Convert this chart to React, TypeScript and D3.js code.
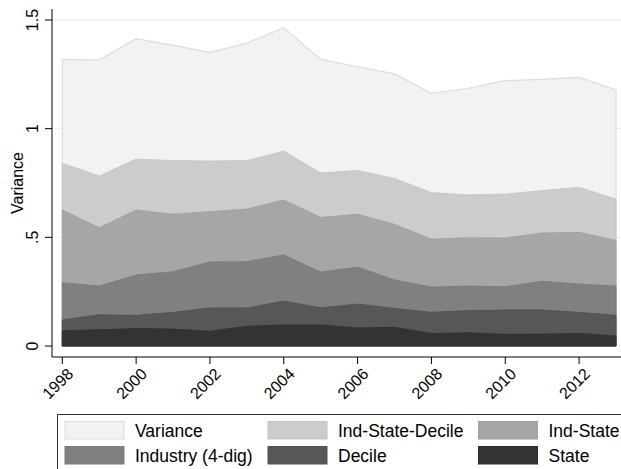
import React from "react";
import * as d3 from "d3";

const years = [1998, 1999, 2000, 2001, 2002, 2003, 2004, 2005, 2006, 2007, 2008, 2009, 2010, 2011, 2012, 2013];
const variance = [1.319, 1.316, 1.414, 1.383, 1.351, 1.394, 1.465, 1.319, 1.285, 1.252, 1.163, 1.186, 1.221, 1.227, 1.236, 1.178];
const indStateDecile = [0.841, 0.782, 0.86, 0.853, 0.851, 0.853, 0.897, 0.796, 0.808, 0.771, 0.706, 0.695, 0.699, 0.715, 0.73, 0.676];
const indState = [0.626, 0.544, 0.626, 0.606, 0.618, 0.63, 0.672, 0.592, 0.606, 0.56, 0.492, 0.498, 0.497, 0.52, 0.523, 0.486];
const industry = [0.291, 0.276, 0.327, 0.342, 0.387, 0.388, 0.419, 0.34, 0.363, 0.304, 0.271, 0.276, 0.273, 0.298, 0.285, 0.276];
const decile = [0.12, 0.144, 0.141, 0.155, 0.175, 0.175, 0.207, 0.176, 0.193, 0.173, 0.155, 0.163, 0.166, 0.166, 0.155, 0.141];
const stateV = [0.07, 0.075, 0.08, 0.078, 0.068, 0.091, 0.097, 0.097, 0.083, 0.086, 0.058, 0.061, 0.054, 0.055, 0.058, 0.046];

const seriesNames = ["Variance", "Ind-State-Decile", "Ind-State", "Industry (4-dig)", "Decile", "State"];
const seriesData = [variance, indStateDecile, indState, industry, decile, stateV];
const fills = ["#f2f2f2", "#cccccc", "#a6a6a6", "#808080", "#575757", "#333333"];
const strokes = ["#dcdcdc", "#c4c4c4", "#9e9e9e", "#7a7a7a", "#525252", "#303030"];

const yTicks = [0, 0.5, 1, 1.5];
const yTickLabels = ["0", ".5", "1", "1.5"];
const xTicks = [1998, 2000, 2002, 2004, 2006, 2008, 2010, 2012];

const W = 621;
const H = 469;
const FONT = "'Liberation Sans', Arial, Helvetica, sans-serif";

export default function App() {
  const x = d3.scaleLinear().domain([1998, 2013]).range([62.3, 616]);
  const y = d3.scaleLinear().domain([0, 1.5]).range([346, 20]);
  const axisX = 52;
  const axisY = 357;

  const area = d3
    .area<number>()
    .x((_, i) => x(years[i]))
    .y0(() => y(0))
    .y1((d) => y(d))
    .curve(d3.curveLinear);

  const legendCols = [65, 268, 478.5];
  const legendRows = [421.5, 446.5];

  return (
    <svg
      width={W}
      height={H}
      style={{ position: "absolute", left: 0, top: 0, background: "#fff" }}
      fontFamily={FONT}
    >
      <rect x={0} y={0} width={W} height={H} fill="#ffffff" />
      {/* gridlines */}
      {yTicks.map((t) => (
        <line key={"g" + t} x1={axisX} x2={W} y1={y(t)} y2={y(t)} stroke="#eaeaea" strokeWidth={1} />
      ))}
      {/* areas */}
      {seriesData.map((s, k) => (
        <path key={k} d={area(s) || ""} fill={fills[k]} stroke={strokes[k]} strokeWidth={k === 0 ? 1.2 : 0.8} />
      ))}
      {/* y axis */}
      <line x1={axisX} x2={axisX} y1={9} y2={axisY} stroke="#000" strokeWidth={1} />
      {yTicks.map((t, i) => (
        <g key={"yt" + t}>
          <line x1={axisX - 7} x2={axisX} y1={y(t)} y2={y(t)} stroke="#000" strokeWidth={1} />
          <text
            transform={`translate(38,${y(t)}) rotate(-90)`}
            textAnchor="middle"
            fontSize={16}
            fill="#000"
          >
            {yTickLabels[i]}
          </text>
        </g>
      ))}
      <text transform={`translate(23,${(9 + axisY) / 2}) rotate(-90)`} textAnchor="middle" fontSize={16} fill="#000">
        Variance
      </text>
      {/* x axis */}
      <line x1={axisX} x2={W} y1={axisY} y2={axisY} stroke="#000" strokeWidth={1} />
      {xTicks.map((t) => (
        <g key={"xt" + t}>
          <line x1={x(t)} x2={x(t)} y1={axisY} y2={axisY + 7} stroke="#000" strokeWidth={1} />
          <text
            transform={`translate(${x(t) + 4},${axisY + 10}) rotate(-45)`}
            textAnchor="end"
            dominantBaseline="hanging"
            fontSize={16}
            fill="#000"
          >
            {t}
          </text>
        </g>
      ))}
      {/* legend */}
      <rect x={57.5} y={414.5} width={W} height={H} fill="#fff" stroke="#333" strokeWidth={1} />
      {seriesNames.map((n, k) => {
        const col = k % 3;
        const row = Math.floor(k / 3);
        const sx = legendCols[col];
        const sy = legendRows[row];
        return (
          <g key={"l" + k}>
            <rect x={sx} y={sy} width={59} height={17.5} fill={fills[k]} stroke={strokes[k]} strokeWidth={1} />
            <text x={sx + 70} y={sy + 15.5} fontSize={17.5} fill="#000">
              {n}
            </text>
          </g>
        );
      })}
    </svg>
  );
}
